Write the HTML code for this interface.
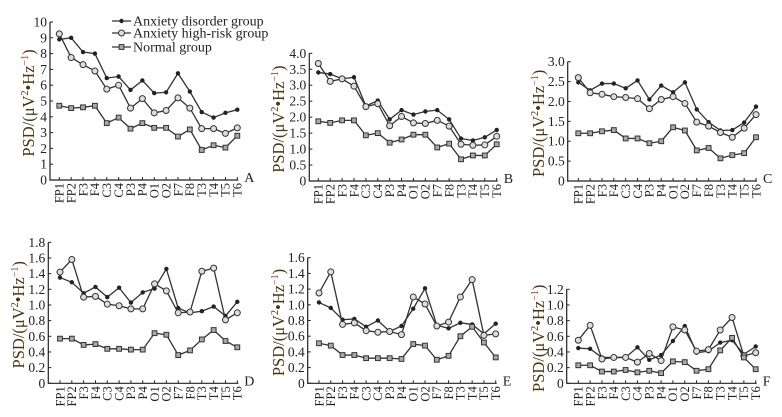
<!DOCTYPE html>
<html><head><meta charset="utf-8"><style>
body{margin:0;background:#fff}
svg{display:block;font-family:"Liberation Serif",serif}
</style></head><body>
<svg id="fig" width="782" height="417" viewBox="0 0 782 417"></svg>
<script>
const categories=["FP1","FP2","F3","F4","C3","C4","P3","P4","O1","O2","F7","F8","T3","T4","T5","T6"];
const seriesNames=["Anxiety disorder group","Anxiety high-risk group","Normal group"];
const aDisorder=[8.9,9.0,8.1,8.0,6.45,6.55,5.7,6.3,5.5,5.55,6.75,5.6,4.3,3.95,4.25,4.45];
const aHighRisk=[9.25,7.75,7.3,6.9,5.75,6.0,4.55,5.15,4.25,4.4,5.2,4.55,3.25,3.25,2.95,3.3];
const aNormal=[4.7,4.55,4.6,4.7,3.6,3.95,3.25,3.6,3.3,3.3,2.75,3.2,1.9,2.2,2.05,2.8];
const bDisorder=[3.4,3.35,3.2,3.25,2.35,2.52,1.93,2.22,2.08,2.18,2.22,1.93,1.33,1.27,1.37,1.6];
const bHighRisk=[3.68,3.12,3.2,2.97,2.33,2.42,1.73,2.02,1.82,1.8,1.9,1.72,1.15,1.12,1.13,1.4];
const bNormal=[1.87,1.82,1.9,1.9,1.43,1.5,1.2,1.3,1.45,1.45,1.05,1.17,0.68,0.8,0.8,1.15];
const cDisorder=[2.48,2.28,2.45,2.45,2.33,2.53,2.05,2.4,2.23,2.48,1.8,1.48,1.27,1.28,1.47,1.87];
const cHighRisk=[2.6,2.22,2.18,2.12,2.1,2.07,1.82,2.05,2.12,1.95,1.48,1.38,1.22,1.1,1.33,1.67];
const cNormal=[1.2,1.2,1.25,1.28,1.07,1.07,0.95,1.0,1.35,1.27,0.77,0.83,0.57,0.65,0.7,1.1];
const dDisorder=[1.35,1.29,1.15,1.23,1.1,1.22,1.03,1.16,1.21,1.46,0.96,0.9,0.92,0.98,0.86,1.04];
const dHighRisk=[1.42,1.58,1.1,1.11,1.01,0.99,0.95,0.95,1.27,1.18,0.9,0.91,1.43,1.47,0.81,0.9];
const dNormal=[0.57,0.57,0.49,0.5,0.44,0.44,0.43,0.43,0.64,0.62,0.36,0.42,0.56,0.68,0.54,0.46];
const eDisorder=[1.03,0.96,0.81,0.82,0.72,0.8,0.66,0.73,0.95,1.21,0.74,0.7,0.77,0.75,0.63,0.76];
const eHighRisk=[1.15,1.42,0.75,0.77,0.67,0.65,0.66,0.62,1.1,1.01,0.73,0.78,1.1,1.32,0.61,0.63];
const eNormal=[0.51,0.48,0.36,0.36,0.32,0.32,0.32,0.31,0.5,0.48,0.3,0.35,0.6,0.72,0.52,0.33];
const fDisorder=[0.45,0.44,0.33,0.33,0.33,0.46,0.3,0.36,0.54,0.73,0.39,0.41,0.52,0.55,0.37,0.47];
const fHighRisk=[0.55,0.74,0.31,0.33,0.33,0.27,0.38,0.29,0.72,0.68,0.41,0.43,0.68,0.84,0.35,0.39];
const fNormal=[0.23,0.23,0.15,0.15,0.17,0.14,0.16,0.13,0.28,0.27,0.16,0.18,0.42,0.58,0.33,0.18];
const aTicks=["0","1","2","3","4","5","6","7","8","9","10"];
const bTicks=["0","0.5","1.0","1.5","2.0","2.5","3.0","3.5","4.0"];
const cTicks=["0","0.5","1.0","1.5","2.0","2.5","3.0"];
const dTicks=["0","0.2","0.4","0.6","0.8","1.0","1.2","1.4","1.6","1.8"];
const eTicks=["0","0.2","0.4","0.6","0.8","1.0","1.2","1.4","1.6"];
const fTicks=["0","0.2","0.4","0.6","0.8","1.0","1.2"];

const NS="http://www.w3.org/2000/svg";
const svg=document.getElementById('fig');
function mk(tag,attrs,parent){const e=document.createElementNS(NS,tag);for(const k in attrs)e.setAttribute(k,attrs[k]);(parent||svg).appendChild(e);return e;}

const panels=[
 {id:"a",letter:"A",ax:50,x0:59.3,x1:237.3,y0:180,yTop:22,ticks:aTicks,lab:28,s:[aDisorder,aHighRisk,aNormal]},
 {id:"b",letter:"B",ax:309.3,x0:318.3,x1:496.7,y0:181,yTop:53.3,ticks:bTicks,lab:278,s:[bDisorder,bHighRisk,bNormal]},
 {id:"c",letter:"C",ax:567.7,x0:578.3,x1:756,y0:181,yTop:61.7,ticks:cTicks,lab:538,s:[cDisorder,cHighRisk,cNormal]},
 {id:"d",letter:"D",ax:48.3,x0:60,x1:237.3,y0:383.3,yTop:242.3,ticks:dTicks,lab:18,s:[dDisorder,dHighRisk,dNormal]},
 {id:"e",letter:"E",ax:307.7,x0:319,x1:495.7,y0:383.3,yTop:257.7,ticks:eTicks,lab:278,s:[eDisorder,eHighRisk,eNormal]},
 {id:"f",letter:"F",ax:566.7,x0:578.3,x1:755.7,y0:383.3,yTop:289.3,ticks:fTicks,lab:538,s:[fDisorder,fHighRisk,fNormal]}
];

panels.forEach(p=>{
 const g=mk('g',{});
 
 
 const ymax=parseFloat(p.ticks[p.ticks.length-1]);
 const Y=v=>p.y0-(v/ymax)*(p.y0-p.yTop);
 const X=i=>p.x0+i*(p.x1-p.x0)/(categories.length-1);
 const xEnd=p.x1+1;
 const axes=mk('path',{d:`M${p.ax},${p.yTop} L${p.ax},${p.y0} L${xEnd},${p.y0}`,stroke:'#222',fill:'none','stroke-width':1.2},g);
 
 
 p.ticks.forEach(t=>{
  const v=parseFloat(t),y=Y(v);
  mk('line',{x1:p.ax,x2:p.ax+3,y1:y,y2:y,stroke:'#222','stroke-width':1},g);
  const tx=mk('text',{x:p.ax-3,y:y+4.5,'text-anchor':'end','font-size':13.5,fill:'#222'},g);
  tx.textContent=t;
  
  
 });
 categories.forEach((c,i)=>{
  const x=X(i);
  mk('line',{x1:x,x2:x,y1:p.y0,y2:p.y0-3,stroke:'#222','stroke-width':1},g);
  const tx=mk('text',{x:0,y:0,'text-anchor':'end','font-size':12.5,fill:'#222',transform:`translate(${x+4.3},${p.y0+3}) rotate(-90)`},g);
  tx.textContent=c;
  
  
 });
 const L=mk('text',{x:xEnd+6,y:p.y0+2,'font-size':14,fill:'#222'},g);
 L.textContent=p.letter;
 
 
 const yl=mk('text',{x:0,y:0,'text-anchor':'middle','font-size':16.5,fill:'#4a3510',transform:`translate(${p.lab+6},${(p.y0+p.yTop)/2+2}) rotate(-90)`},g);
 yl.innerHTML='PSD/(μV<tspan dy="-6" font-size="10">2</tspan><tspan dy="6">•Hz</tspan><tspan dy="-6" font-size="10" fill="#c0201a">−1</tspan><tspan dy="6">)</tspan>';
 
 
 p.s.forEach((arr,si)=>{
  const pts=arr.map((v,i)=>X(i)+','+Y(v)).join(' ');
  const line=mk('polyline',{points:pts,fill:'none',stroke:'#333','stroke-width':1.3},g);
  
  
  arr.forEach((v,i)=>{
   let m;
   if(si===0)m=mk('circle',{cx:X(i),cy:Y(v),r:2.2,fill:'#222'},g);
   else if(si===1)m=mk('circle',{cx:X(i),cy:Y(v),r:3,fill:'#ddd',stroke:'#333','stroke-width':1},g);
   else m=mk('rect',{x:X(i)-2.4,y:Y(v)-2.4,width:4.8,height:4.8,fill:'#aaa',stroke:'#333','stroke-width':1},g);
   
   
  });
 });
});
// legend
const lg=mk('g',{});


[21,33,47].forEach((y,si)=>{
 mk('line',{x1:112,x2:131,y1:y,y2:y,stroke:'#333','stroke-width':1.3},lg);
 let m;
 if(si===0)m=mk('circle',{cx:121.5,cy:y,r:2.2,fill:'#222'},lg);
 else if(si===1)m=mk('circle',{cx:121.5,cy:y,r:3,fill:'#ddd',stroke:'#333'},lg);
 else m=mk('rect',{x:119.1,y:y-2.4,width:4.8,height:4.8,fill:'#aaa',stroke:'#333'},lg);
 const t=mk('text',{x:133,y:y+4.5,'font-size':14,fill:'#222'},lg);
 t.textContent=seriesNames[si];
 
 
});
</script>
</body></html>
